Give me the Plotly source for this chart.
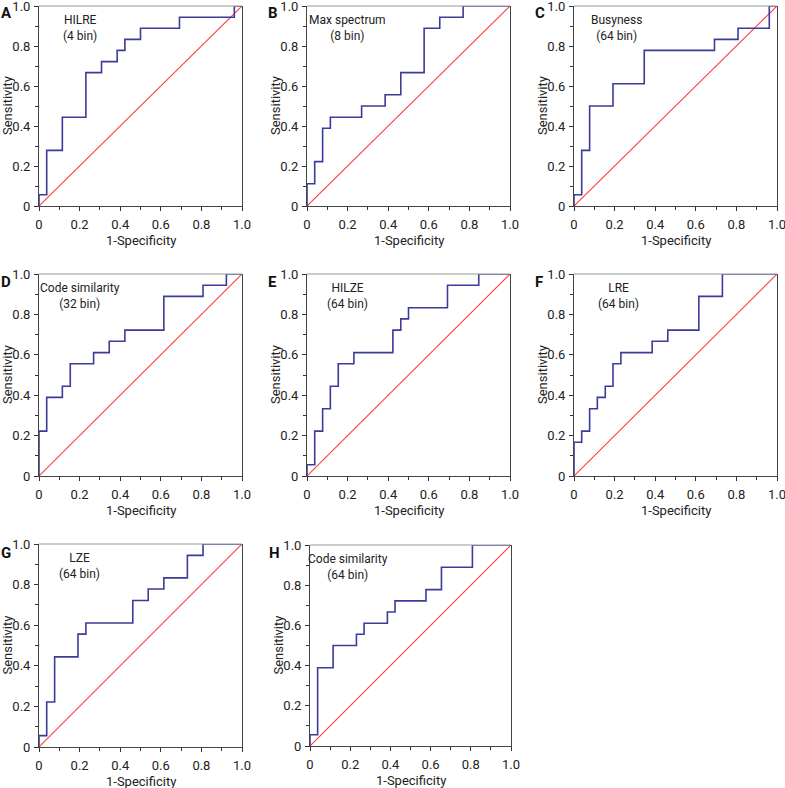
import plotly.graph_objects as go

W, H = 785, 788

# ROC step points (1-Specificity, Sensitivity)
fpr_A = [0, 0, 0.038, 0.115, 0.231, 0.308, 0.385, 0.423, 0.5, 0.692, 0.962, 1.0]
tpr_A = [0, 0.056, 0.278, 0.444, 0.667, 0.722, 0.778, 0.833, 0.889, 0.944, 1.0, 1.0]

fpr_B = [0, 0, 0.038, 0.077, 0.115, 0.269, 0.385, 0.462, 0.577, 0.654, 0.769, 1.0]
tpr_B = [0, 0.111, 0.222, 0.389, 0.444, 0.5, 0.556, 0.667, 0.889, 0.944, 1.0, 1.0]

fpr_C = [0, 0, 0.038, 0.077, 0.192, 0.346, 0.692, 0.808, 0.962, 1.0]
tpr_C = [0, 0.056, 0.278, 0.5, 0.611, 0.778, 0.833, 0.889, 1.0, 1.0]

fpr_D = [0, 0, 0.038, 0.115, 0.154, 0.269, 0.346, 0.423, 0.615, 0.808, 0.923, 1.0]
tpr_D = [0, 0.222, 0.389, 0.444, 0.556, 0.611, 0.667, 0.722, 0.889, 0.944, 1.0, 1.0]

fpr_E = [0, 0, 0.038, 0.077, 0.115, 0.154, 0.231, 0.423, 0.462, 0.5, 0.692, 0.846, 1.0]
tpr_E = [0, 0.056, 0.222, 0.333, 0.444, 0.556, 0.611, 0.722, 0.778, 0.833, 0.944, 1.0, 1.0]

fpr_F = [0, 0, 0.038, 0.077, 0.115, 0.154, 0.192, 0.231, 0.385, 0.462, 0.615, 0.731, 1.0]
tpr_F = [0, 0.167, 0.222, 0.333, 0.389, 0.444, 0.556, 0.611, 0.667, 0.722, 0.889, 1.0, 1.0]

fpr_G = [0, 0, 0.038, 0.077, 0.192, 0.231, 0.462, 0.538, 0.615, 0.731, 0.808, 1.0]
tpr_G = [0, 0.056, 0.222, 0.444, 0.556, 0.611, 0.722, 0.778, 0.833, 0.944, 1.0, 1.0]

fpr_H = [0, 0, 0.038, 0.115, 0.231, 0.269, 0.385, 0.423, 0.577, 0.654, 0.808, 1.0]
tpr_H = [0, 0.056, 0.389, 0.5, 0.556, 0.611, 0.667, 0.722, 0.778, 0.889, 1.0, 1.0]

panel_letters = ["A", "B", "C", "D", "E", "F", "G", "H"]
panel_names = ["HILRE", "Max spectrum", "Busyness", "Code similarity",
               "HILZE", "LRE", "LZE", "Code similarity"]
panel_bins = ["(4 bin)", "(8 bin)", "(64 bin)", "(32 bin)",
              "(64 bin)", "(64 bin)", "(64 bin)", "(64 bin)"]
fprs = [fpr_A, fpr_B, fpr_C, fpr_D, fpr_E, fpr_F, fpr_G, fpr_H]
tprs = [tpr_A, tpr_B, tpr_C, tpr_D, tpr_E, tpr_F, tpr_G, tpr_H]

tick_vals = [0, 0.2, 0.4, 0.6, 0.8, 1.0]
tick_text = ["0", "0.2", "0.4", "0.6", "0.8", "1.0"]
diag = [0, 1]
x_title = "1-Specificity"
y_title = "Sensitivity"

# pixel boxes of each plot area: (x0, x1, ytop, ybottom)
boxes = [
    (39, 242, 6, 206), (307, 510, 6, 206), (574, 777, 6, 206),
    (39, 242, 274, 476), (307, 510, 274, 476), (574, 777, 274, 476),
    (39, 242, 544, 747), (310, 511, 545, 746),
]
letter_pos = [(6, 13), (273, 13), (540, 13), (6, 282), (272, 282), (539, 282),
              (6, 553), (274, 553)]
label_x = [0.2, 0.2, 0.21, 0.2, 0.2, 0.22, 0.2, 0.19]

FONT = "Roboto, Liberation Sans, sans-serif"
BLUE = "#3b3b9c"
RED = "#ff3b3b"
TXT = "#222"

fig = go.Figure()
layout = dict(
    width=W, height=H, margin=dict(l=0, r=0, t=0, b=0),
    plot_bgcolor="white", paper_bgcolor="white", showlegend=False,
    font=dict(family=FONT, color=TXT, size=13),
)
annotations = []
shapes = []

for i in range(8):
    n = i + 1
    xa = "x" if n == 1 else f"x{n}"
    ya = "y" if n == 1 else f"y{n}"
    x0, x1, yt, yb = boxes[i]
    fig.add_trace(go.Scatter(x=diag, y=diag, mode="lines", xaxis=xa, yaxis=ya,
                             line=dict(color=RED, width=1.1), hoverinfo="skip"))
    fig.add_trace(go.Scatter(x=fprs[i], y=tprs[i], mode="lines", xaxis=xa, yaxis=ya,
                             line=dict(color=BLUE, width=1.6, shape="hv"),
                             cliponaxis=False))
    common = dict(range=[0, 1], tickvals=tick_vals, ticktext=tick_text,
                  ticks="outside", ticklen=4, tickwidth=1, tickcolor="#333",
                  showline=True, linecolor="#444", linewidth=1,
                  showgrid=False, zeroline=False, fixedrange=True,
                  automargin=False, ticklabeloverflow="allow",
                  tickfont=dict(family=FONT, size=13, color=TXT),
                  minor=dict(dtick=0.1, tick0=0, ticks="outside", ticklen=3,
                             tickcolor="#333", showgrid=False))
    xkey = "xaxis" if n == 1 else f"xaxis{n}"
    ykey = "yaxis" if n == 1 else f"yaxis{n}"
    layout[xkey] = dict(common, domain=[x0 / W, x1 / W], anchor=ya,
                        ticklabelstandoff=2)
    layout[ykey] = dict(common, domain=[1 - yb / H, 1 - yt / H], anchor=xa,
                        mirror=True, ticklabelstandoff=1)
    # top frame line (lighter)
    shapes.append(dict(type="line", xref=f"{xa} domain", yref=f"{ya} domain",
                       x0=0, x1=1, y0=1, y1=1, line=dict(color="#999", width=1)))
    annotations.append(dict(text=f"{panel_names[i]}<br>{panel_bins[i]}",
                            xref=xa, yref=ya, x=label_x[i], y=0.89,
                            showarrow=False, align="center",
                            font=dict(family=FONT, size=12, color=TXT)))
    # axis titles
    annotations.append(dict(text=x_title, xref="paper", yref="paper",
                            x=(x0 + x1) / 2 / W, y=1 - (yb + 34) / H,
                            showarrow=False, xanchor="center", yanchor="middle",
                            font=dict(family=FONT, size=13, color=TXT)))
    annotations.append(dict(text=y_title, xref="paper", yref="paper",
                            x=(x0 - 32) / W, y=1 - (yt + yb) / 2 / H,
                            showarrow=False, xanchor="center", yanchor="middle",
                            textangle=-90,
                            font=dict(family=FONT, size=13, color=TXT)))
    lx, ly = letter_pos[i]
    annotations.append(dict(text=f"<b>{panel_letters[i]}</b>", xref="paper", yref="paper",
                            x=lx / W, y=1 - ly / H, showarrow=False,
                            xanchor="center", yanchor="middle",
                            font=dict(family=FONT, size=15, color="#111")))

layout["annotations"] = annotations
layout["shapes"] = shapes
fig.update_layout(**layout)
fig.write_html("out.html", config={"displayModeBar": False},
               post_script="document.body.style.margin='0px';document.body.style.overflow='hidden';")
